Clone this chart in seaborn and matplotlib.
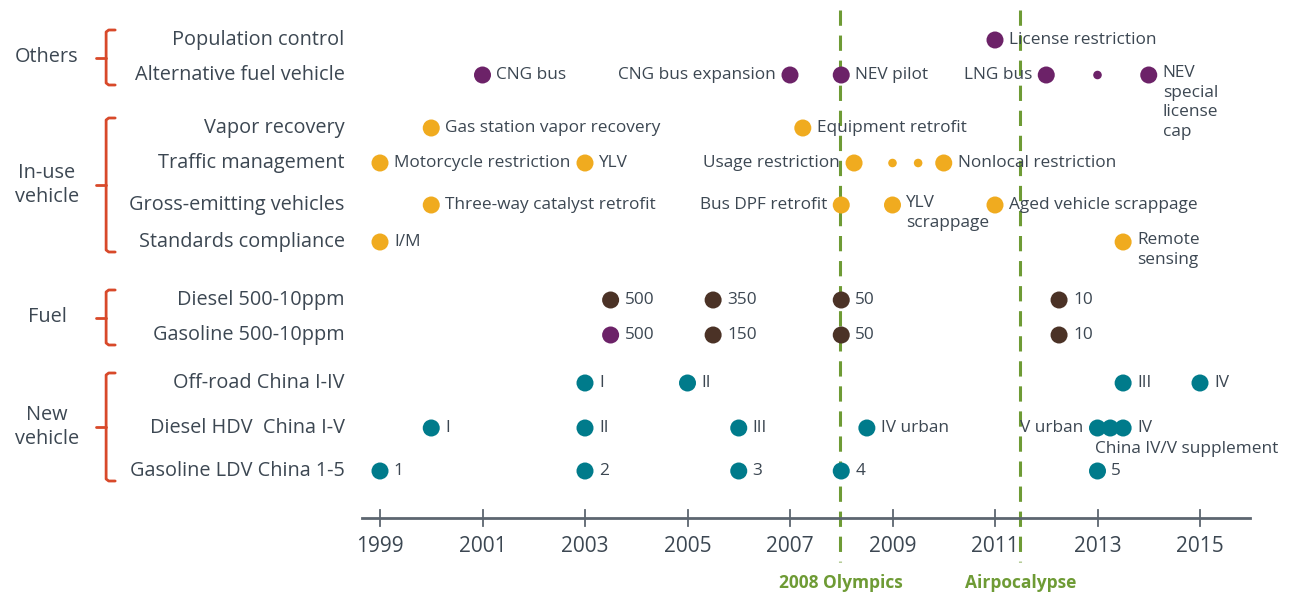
import pandas as pd
import numpy as np
import matplotlib.pyplot as plt
import seaborn as sns

# rows, top to bottom, and the group each belongs to
rows = ["Population control", "Alternative fuel vehicle",
        "Vapor recovery", "Traffic management", "Gross-emitting vehicles", "Standards compliance",
        "Diesel 500-10ppm", "Gasoline 500-10ppm",
        "Off-road China I-IV", "Diesel HDV  China I-V", "Gasoline LDV China 1-5"]
row_group = ["Others", "Others",
             "In-use\nvehicle", "In-use\nvehicle", "In-use\nvehicle", "In-use\nvehicle",
             "Fuel", "Fuel",
             "New\nvehicle", "New\nvehicle", "New\nvehicle"]
# spacing above each row (layout only, in pixels)
row_step = [0, 35, 53, 35, 42, 37, 58, 35, 48, 45, 43]

# events: row index, year, label, label side, big/small dot
ev_row = [0,
          1, 1, 1, 1, 1, 1,
          2, 2,
          3, 3, 3, 3, 3, 3,
          4, 4, 4, 4,
          5, 5,
          6, 6, 6, 6,
          7, 7, 7, 7,
          8, 8, 8, 8,
          9, 9, 9, 9, 9, 9, 9,
          10, 10, 10, 10, 10]
ev_year = [2011,
           2001, 2007, 2008, 2012, 2013, 2014,
           2000, 2007.25,
           1999, 2003, 2008.25, 2009, 2009.5, 2010,
           2000, 2008, 2009, 2011,
           1999, 2013.5,
           2003.5, 2005.5, 2008, 2012.25,
           2003.5, 2005.5, 2008, 2012.25,
           2003, 2005, 2013.5, 2015,
           2000, 2003, 2006, 2008.5, 2013, 2013.25, 2013.5,
           1999, 2003, 2006, 2008, 2013]
ev_label = ["License restriction",
            "CNG bus", "CNG bus expansion", "NEV pilot", "LNG bus", "", "NEV\nspecial\nlicense\ncap",
            "Gas station vapor recovery", "Equipment retrofit",
            "Motorcycle restriction", "YLV", "Usage restriction", "", "", "Nonlocal restriction",
            "Three-way catalyst retrofit", "Bus DPF retrofit", "YLV\nscrappage", "Aged vehicle scrappage",
            "I/M", "Remote\nsensing",
            "500", "350", "50", "10",
            "500", "150", "50", "10",
            "I", "II", "III", "IV",
            "I", "II", "III", "IV urban", "V urban", "", "IV",
            "1", "2", "3", "4", "5"]
ev_side = ["r",
           "r", "l", "r", "l", "r", "r",
           "r", "r",
           "r", "r", "l", "r", "r", "r",
           "r", "l", "r", "r",
           "r", "r",
           "r", "r", "r", "r",
           "r", "r", "r", "r",
           "r", "r", "r", "r",
           "r", "r", "r", "r", "l", "r", "r",
           "r", "r", "r", "r", "r"]
ev_small = [0,
            0, 0, 0, 0, 1, 0,
            0, 0,
            0, 0, 0, 1, 1, 0,
            0, 0, 0, 0,
            0, 0,
            0, 0, 0, 0,
            0, 0, 0, 0,
            0, 0, 0, 0,
            0, 0, 0, 0, 0, 0, 0,
            0, 0, 0, 0, 0]
# gasoline 500ppm point is drawn in the purple of the first group
ev_color_override = {25: "Others"}

years = [1999, 2001, 2003, 2005, 2007, 2009, 2011, 2013, 2015]
events_marked = [(2008, "2008 Olympics"), (2011.5, "Airpocalypse")]
supplement_note = "China IV/V supplement"

palette = {"Others": "#6c2268", "In-use\nvehicle": "#f0ab1f",
           "Fuel": "#4b3226", "New\nvehicle": "#007b8b"}
text_c = "#3c4752"
red = "#d8492a"
green = "#6e9b35"

ypos = list(np.cumsum(row_step) + 40.0)

df = pd.DataFrame({"row": ev_row, "year": ev_year, "label": ev_label,
                   "side": ev_side, "small": ev_small})
df["y"] = [ypos[r] for r in df["row"]]
df["group"] = [ev_color_override.get(i, row_group[r]) for i, r in enumerate(df["row"])]

plt.rcParams['font.family'] = ['Open Sans', 'DejaVu Sans']
fig = plt.figure(figsize=(12.91, 5.94), dpi=100)
ax = fig.add_axes([0, 0, 1, 1])
ax.set_xlim(1999 - 380 / 51.25, 1999 + 911 / 51.25)
ax.set_ylim(594, 0)
ax.axis("off")

big = df[df["small"] == 0]
sml = df[df["small"] == 1]
sns.scatterplot(data=big, x="year", y="y", hue="group", palette=palette, s=150,
                linewidth=0, legend=False, ax=ax, zorder=3)
sns.scatterplot(data=sml, x="year", y="y", hue="group", palette=palette, s=38,
                linewidth=0, legend=False, ax=ax, zorder=3)

lab_fs = 12.4
for _, r in df.iterrows():
    if not r["label"]:
        continue
    multi = "\n" in r["label"]
    if r["side"] == "r":
        ax.annotate(r["label"], (r["year"], r["y"]),
                    xytext=(10, 7 if multi else 0), textcoords="offset points",
                    ha="left", va="top" if multi else "center",
                    fontsize=lab_fs, color=text_c, fontweight="medium", linespacing=1.3)
    else:
        ax.annotate(r["label"], (r["year"], r["y"]), xytext=(-10, 0), textcoords="offset points",
                    ha="right", va="center", fontsize=lab_fs, color=text_c, fontweight="medium")

# supplement note under the HDV IV dot
hdv = df[(df["row"] == 9) & (df["label"] == "V urban")].iloc[0]
ax.annotate(supplement_note, (hdv["year"], hdv["y"]), xytext=(-2, -15), textcoords="offset points",
            ha="left", va="center", fontsize=lab_fs, color=text_c, fontweight="medium")

# row labels
tr = ax.get_yaxis_transform()
for name, yy in zip(rows, ypos):
    ax.text(0.267, yy, name, transform=tr, ha="right", va="center",
            fontsize=14.3, color=text_c, fontweight="medium")

# group labels and brackets
groups = list(dict.fromkeys(row_group))
for g in groups:
    ys = [yy for yy, gg in zip(ypos, row_group) if gg == g]
    top, bot = min(ys) - 10, max(ys) + 10
    mid = (top + bot) / 2
    ax.text(0.0364, mid, g, transform=tr, ha="center", va="center",
            fontsize=14.3, color=text_c, fontweight="medium", linespacing=1.2)
    xb, xs, xn = 0.0822, 0.0892, 0.0745
    ax.plot([xs, xb + 0.002, xb, xb, xb + 0.002, xs], [top, top, top + 2, bot - 2, bot, bot],
            transform=tr, color=red, lw=2, solid_capstyle="round", solid_joinstyle="round")
    ax.plot([xn, xb], [mid, mid], transform=tr, color=red, lw=2, solid_capstyle="round")

# time axis
y_axis = 518
ax.plot([1998.65, 2015.97], [y_axis, y_axis], color="#5d6670", lw=2, zorder=1)
for yr in years:
    ax.plot([yr, yr], [y_axis - 8, y_axis + 8], color="#5d6670", lw=1.3, zorder=1)
    ax.text(yr, y_axis + 28, str(yr), ha="center", va="center",
            fontsize=15, color=text_c, fontweight="medium")

for x, lab in events_marked:
    ax.plot([x - 0.02, x - 0.02], [10, 562], color=green, lw=2.2,
            dashes=(5, 3.2), zorder=0)
    ax.text(x, 583, lab, ha="center", va="center", fontsize=12.5,
            color=green, fontweight="bold")

fig.savefig("out.png", dpi=100)
